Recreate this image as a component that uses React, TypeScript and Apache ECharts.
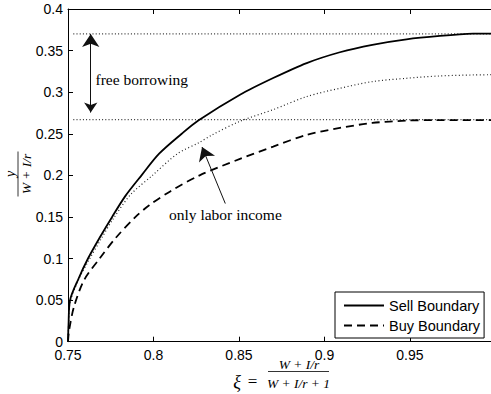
import React, { useEffect, useRef } from "react";
import * as echarts from "echarts";

// xi values and boundaries
const sellXi = [0.75, 0.7503, 0.7512, 0.7562, 0.7617, 0.7685, 0.7758, 0.7835, 0.793, 0.8033, 0.8165, 0.8262, 0.8506, 0.87, 0.8896, 0.909, 0.928, 0.948, 0.9675, 0.987, 0.9974];
const sellY = [0, 0.02, 0.05, 0.076, 0.1, 0.125, 0.15, 0.175, 0.2, 0.226, 0.25, 0.266, 0.297, 0.317, 0.335, 0.348, 0.357, 0.3636, 0.3676, 0.3703, 0.3705];

const buyXi = [0.75, 0.7506, 0.7535, 0.7594, 0.7685, 0.778, 0.7895, 0.7975, 0.81, 0.827, 0.8506, 0.87, 0.8896, 0.909, 0.928, 0.948, 0.965, 0.9974];
const buyY = [0, 0.013, 0.042, 0.074, 0.1, 0.125, 0.15, 0.164, 0.181, 0.2, 0.2198, 0.2346, 0.2487, 0.257, 0.263, 0.2658, 0.2665, 0.2665];

const laborXi = [0.75, 0.7503, 0.7513, 0.7565, 0.7625, 0.7695, 0.7765, 0.7867, 0.7994, 0.814, 0.8268, 0.8337, 0.8506, 0.87, 0.8896, 0.909, 0.928, 0.948, 0.9675, 0.987, 0.9974];
const laborY = [0, 0.02, 0.048, 0.076, 0.099, 0.124, 0.148, 0.177, 0.2, 0.226, 0.2395, 0.248, 0.265, 0.279, 0.2947, 0.3047, 0.3127, 0.3167, 0.3195, 0.3207, 0.321];

const freeBorrowingLevel = 0.37;
const laborOnlyLevel = 0.267;
const levelXi = [0.7531, 0.9974];

// annotation arrows (data coordinates): [tail/start, tip]
const borrowArrow = [[0.7633, 0.2755], [0.7633, 0.37]];
const laborArrow = [[0.842, 0.1661], [0.8284, 0.234]];

const seriesNames = ["Sell Boundary", "Buy Boundary"];
const xTicks = { min: 0.75, max: 0.9974, interval: 0.05 };
const yTicks = { min: 0, max: 0.4, interval: 0.05 };

const zip = (xs: number[], ys: number[]) => xs.map((x, i) => [x, ys[i]]);

const SANS = "Liberation Sans";
const SERIF = "Liberation Serif";

export default function App() {
  const ref = useRef<HTMLDivElement>(null);
  useEffect(() => {
    if (!ref.current) return;
    const chart = echarts.init(ref.current, null, { renderer: "svg" });
    const axisCommon = {
      axisLine: { show: true, onZero: false, lineStyle: { color: "#000", width: 1 } },
      axisTick: { show: true, inside: true, length: 5, lineStyle: { color: "#000", width: 1 } },
      splitLine: { show: false },
    };
    const mathText = (text: string, x: number, y: number, size: number, italic = true) => ({
      type: "text", x, y,
      style: {
        text, font: `${italic ? "italic " : ""}${size}px '${SERIF}'`, lineHeight: size - 3,
        fill: "#000", textAlign: "center", textVerticalAlign: "middle",
      },
    });
    chart.setOption({
      animation: false,
      backgroundColor: "#fff",
      grid: { left: 68, top: 9, width: 423, height: 332.7, containLabel: false },
      xAxis: [
        {
          type: "value", ...xTicks, position: "bottom", ...axisCommon,
          axisLabel: { color: "#000", fontSize: 14, lineHeight: 11, fontFamily: SANS, margin: 8, showMaxLabel: false },
        },
        {
          type: "value", ...xTicks, position: "top", ...axisCommon,
          axisLabel: { show: false },
        },
      ],
      yAxis: {
        type: "value", ...yTicks, ...axisCommon,
        axisLabel: { color: "#000", fontSize: 14, lineHeight: 11, fontFamily: SANS, margin: 5 },
      },
      legend: {
        data: seriesNames,
        orient: "vertical",
        left: 335,
        top: 292,
        itemWidth: 40,
        itemHeight: 14,
        itemGap: 5,
        padding: [6, 4, 5, 8],
        borderColor: "#000",
        borderWidth: 1,
        borderRadius: 0,
        backgroundColor: "#fff",
        itemStyle: { opacity: 0 },
        textStyle: { fontFamily: SANS, fontSize: 14.5, color: "#000" },
      },
      series: [
        {
          name: "free", type: "line", data: zip(levelXi, [freeBorrowingLevel, freeBorrowingLevel]),
          symbol: "none", silent: true, z: 1,
          lineStyle: { color: "#333", width: 1.2, type: [1, 2.2] },
        },
        {
          name: "laborLevel", type: "line", data: zip(levelXi, [laborOnlyLevel, laborOnlyLevel]),
          symbol: "none", silent: true, z: 1,
          lineStyle: { color: "#333", width: 1.2, type: [1, 2.2] },
        },
        {
          name: "only labor income", type: "line", data: zip(laborXi, laborY),
          symbol: "none", smooth: 0.3, z: 2,
          lineStyle: { color: "#222", width: 1.2, type: [1, 2.5] },
        },
        {
          name: seriesNames[0], type: "line", data: zip(sellXi, sellY),
          symbol: "none", smooth: 0.3, z: 3,
          lineStyle: { color: "#000", width: 1.8 },
          itemStyle: { color: "#000" },
        },
        {
          name: seriesNames[1], type: "line", data: zip(buyXi, buyY),
          symbol: "none", smooth: 0.3, z: 3,
          lineStyle: { color: "#000", width: 1.8, type: [8, 5] },
          itemStyle: { color: "#000" },
        },
        {
          type: "lines", coordinateSystem: "cartesian2d", z: 4,
          symbol: ["arrow", "arrow"], symbolSize: [10, 13],
          lineStyle: { color: "#111", width: 1, opacity: 1 },
          itemStyle: { color: "#000" },
          data: [{ coords: borrowArrow }],
        },
        {
          type: "lines", coordinateSystem: "cartesian2d", z: 4,
          symbol: ["none", "arrow"], symbolSize: [10, 13],
          lineStyle: { color: "#111", width: 1, opacity: 1 },
          itemStyle: { color: "#000" },
          data: [{ coords: laborArrow }],
        },
      ],
      graphic: [
        {
          type: "text", x: 95.5, y: 79,
          style: { text: "free borrowing", font: `15.5px '${SERIF}'`, fill: "#000", textAlign: "left", textVerticalAlign: "middle" },
        },
        {
          type: "text", x: 169, y: 214,
          style: { text: "only labor income", font: `15.5px '${SERIF}'`, fill: "#000", textAlign: "left", textVerticalAlign: "middle" },
        },
        // x axis title: xi = (W+I/r)/(W+I/r+1)
        mathText("ξ", 237, 382, 18),
        mathText("=", 252.5, 381, 17, false),
        mathText("W + I/r", 299, 364, 13.5),
        {
          type: "line", shape: { x1: 268, y1: 371.5, x2: 329, y2: 371.5 },
          style: { stroke: "#000", lineWidth: 0.8 },
        },
        mathText("W + I/r + 1", 298.5, 383, 13.5),
        // y axis title: y/(W+I/r), rotated
        {
          type: "group", x: 18, y: 174, rotation: Math.PI / 2,
          children: [
            mathText("y", 0, -8, 14),
            {
              type: "line", shape: { x1: -22.5, y1: 0, x2: 22.5, y2: 0 },
              style: { stroke: "#000", lineWidth: 0.8 },
            },
            mathText("W + I/r", 0, 8, 13.5),
          ],
        },
      ],
    });
    return () => chart.dispose();
  }, []);
  return <div ref={ref} style={{ position: "fixed", left: 0, top: 0, width: 491, height: 394 }} />;
}
